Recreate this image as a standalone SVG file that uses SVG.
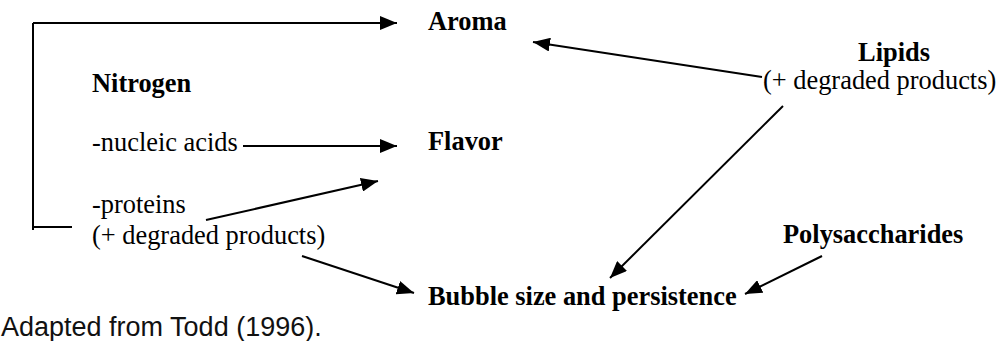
<svg xmlns="http://www.w3.org/2000/svg" width="1000" height="341" viewBox="0 0 1000 341">
<style>
.t{font-family:"Liberation Serif","Times New Roman",serif;font-size:26.4px;fill:#000}
.b{font-weight:bold}
.cap{font-family:"Liberation Sans",Arial,sans-serif;font-size:27px;fill:#111}
.c{stroke:#000;stroke-width:2;fill:none}
.a{marker-end:url(#ah)}
</style>
<defs>
<marker id="ah" markerUnits="userSpaceOnUse" markerWidth="18" markerHeight="14" refX="17" refY="7" orient="auto">
<path d="M0,0 L17,7 L0,14 z" fill="#000"/>
</marker>
</defs>
<rect width="1000" height="341" fill="#fff"/>
<g id="connectors">
<polyline class="c" points="33,230 33,23"/>
<line class="c a" x1="33" y1="23" x2="397" y2="23"/>
<line class="c" x1="33" y1="227" x2="72" y2="227"/>
<line class="c a" x1="243" y1="146" x2="397" y2="146"/>
<line class="c a" x1="206" y1="220" x2="378" y2="181"/>
<line class="c a" x1="302" y1="256" x2="414" y2="293"/>
<line class="c a" x1="762" y1="77" x2="533" y2="42"/>
<line class="c a" x1="783" y1="106" x2="610" y2="278"/>
<line class="c a" x1="822" y1="256" x2="745" y2="294"/>
</g>
<g id="aroma"><text class="t b" x="428" y="30">Aroma</text></g>
<g id="nitrogen">
<text class="t b" x="92" y="92">Nitrogen</text>
<text class="t" x="92" y="151">-nucleic acids</text>
<text class="t" x="92" y="213">-proteins</text>
<text class="t" x="92" y="244">(+ degraded products)</text>
</g>
<g id="flavor"><text class="t b" x="428" y="150">Flavor</text></g>
<g id="lipids">
<text class="t b" x="894" y="61" text-anchor="middle">Lipids</text>
<text class="t" x="763" y="89">(+ degraded products)</text>
</g>
<g id="polysaccharides"><text class="t b" x="783" y="243">Polysaccharides</text></g>
<g id="bubble"><text class="t b" x="428" y="305">Bubble size and persistence</text></g>
<g id="caption"><text class="cap" x="1" y="336">Adapted from Todd (1996).</text></g>
</svg>
